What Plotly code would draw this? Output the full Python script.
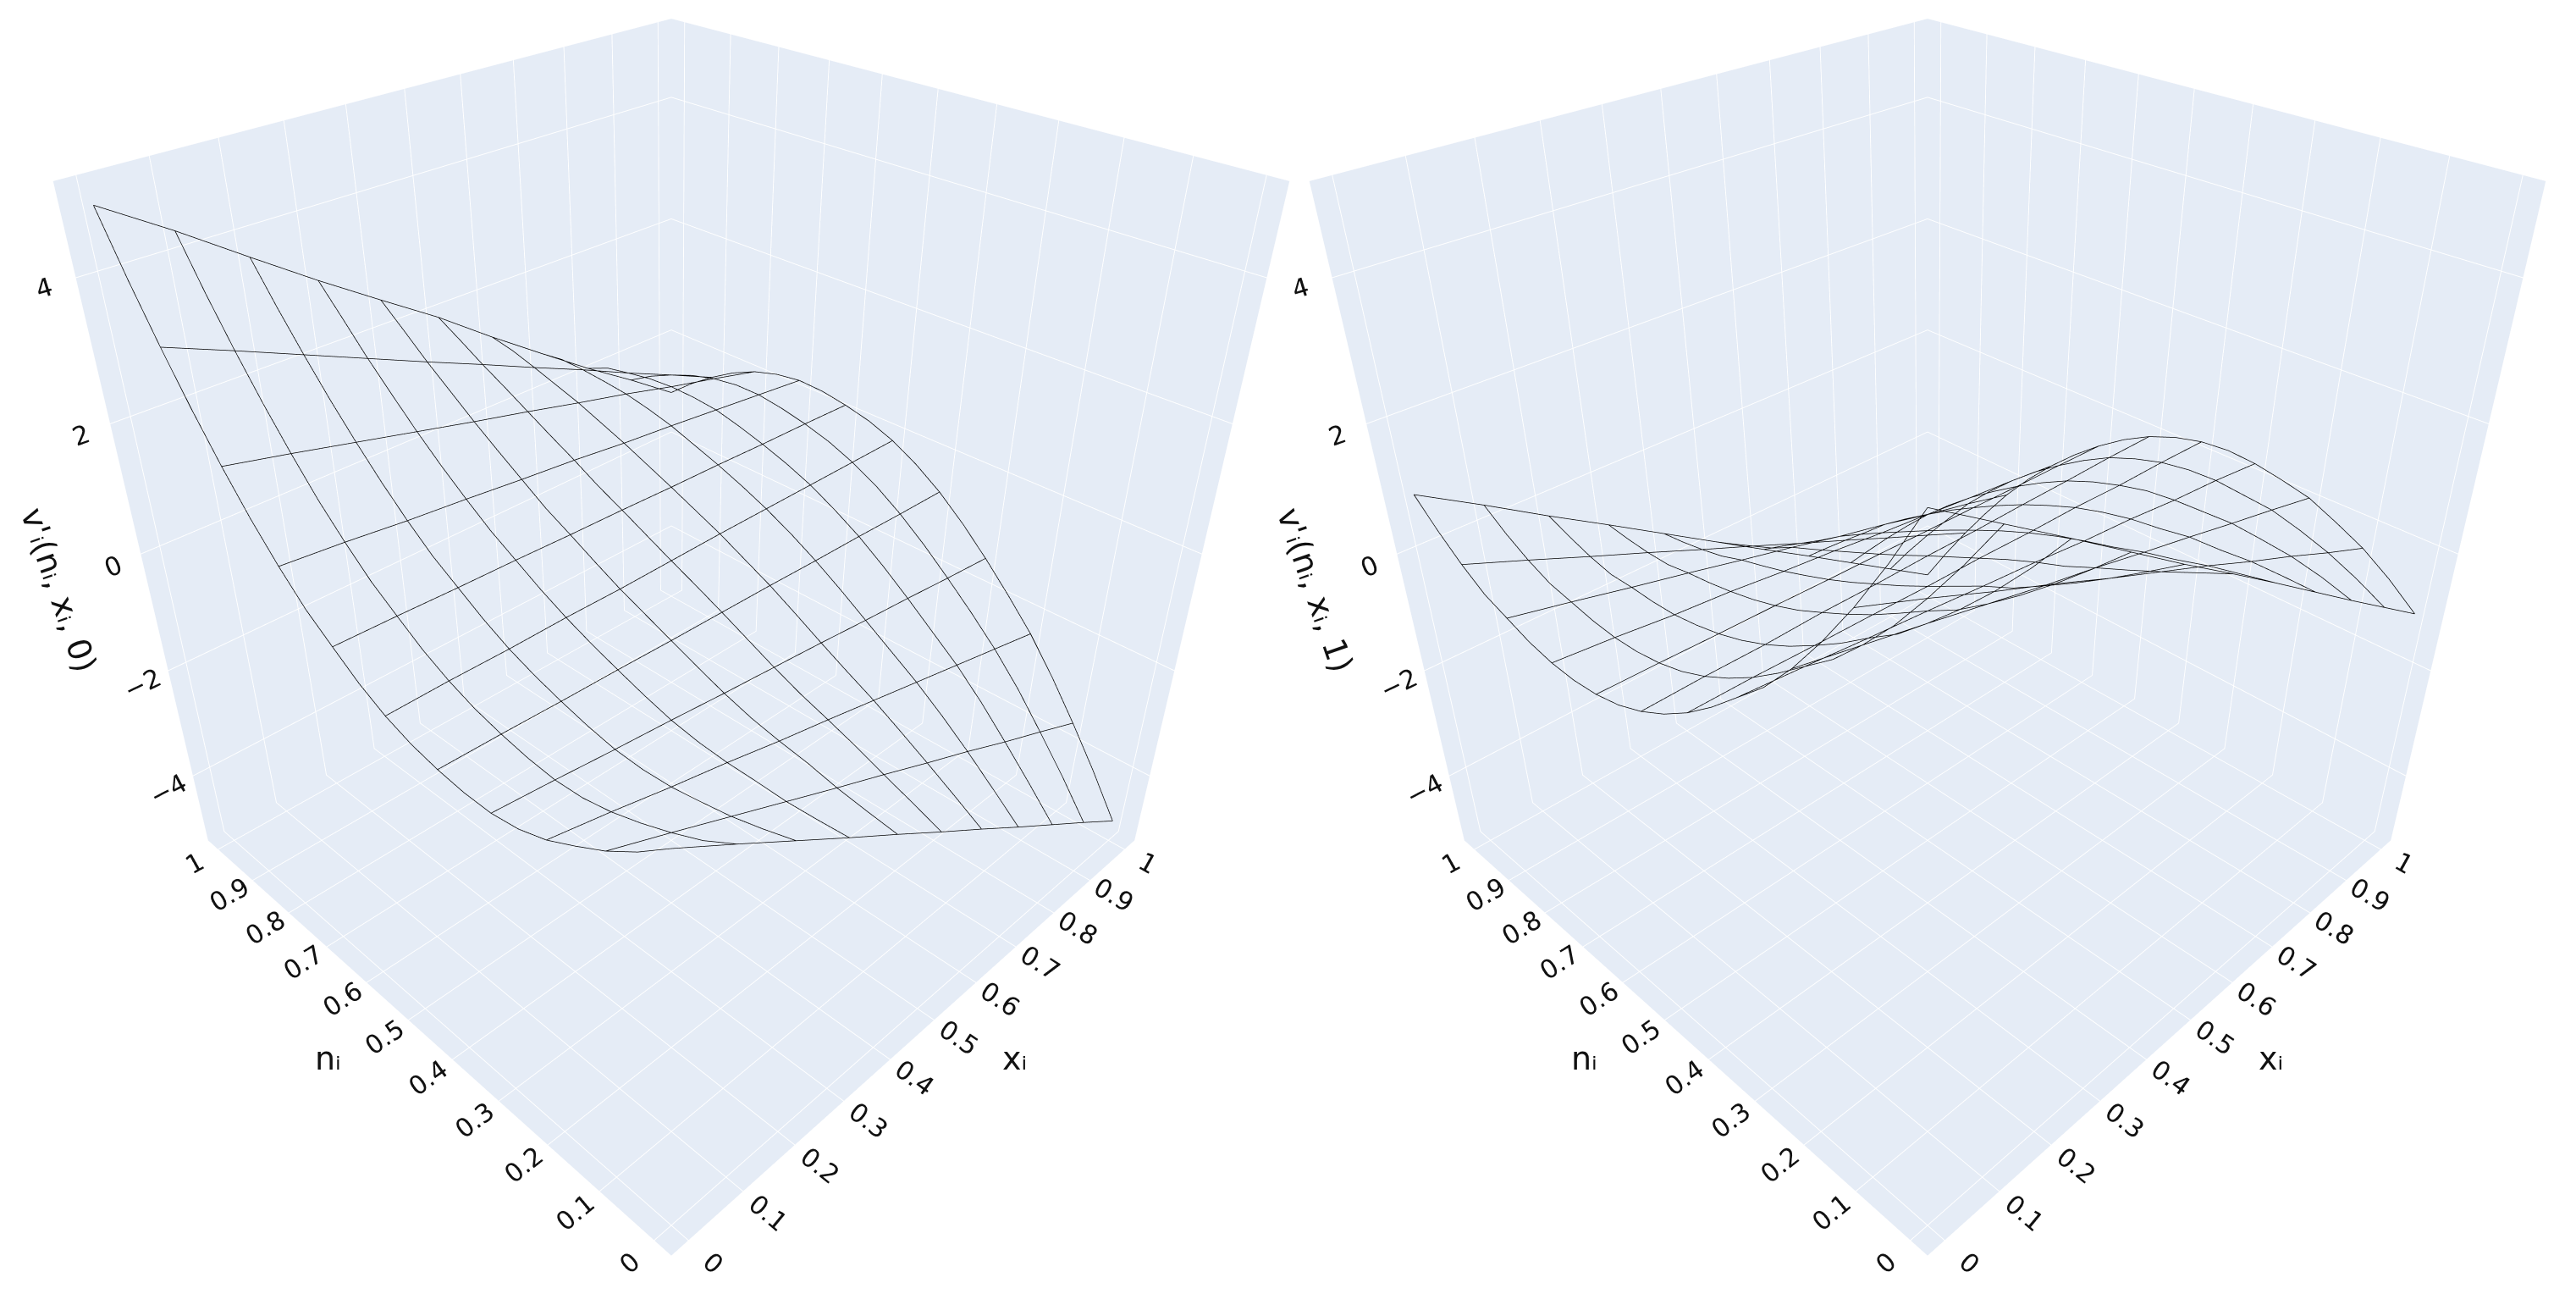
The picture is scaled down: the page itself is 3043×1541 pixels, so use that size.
import plotly.graph_objects as go

n_values = [0.0, 0.05, 0.1, 0.15, 0.2, 0.25, 0.3, 0.35, 0.4, 0.45, 0.5,
            0.55, 0.6, 0.65, 0.7, 0.75, 0.8, 0.85, 0.9, 0.95, 1.0]
x_values = [0.0, 0.1, 0.2, 0.3, 0.4, 0.5, 0.6, 0.7, 0.8, 0.9, 1.0]

# rows: n_i, columns: x_i
v_t0 = [
    [0.93, 0.35, -0.24, -0.83, -1.41, -2.00, -2.58, -3.17, -3.75, -4.33, -4.92],
    [0.56, 0.08, -0.38, -0.86, -1.34, -1.81, -2.29, -2.77, -3.25, -3.71, -4.19],
    [0.25, -0.12, -0.50, -0.88, -1.26, -1.63, -2.01, -2.38, -2.77, -3.14, -3.52],
    [0.00, -0.29, -0.58, -0.86, -1.15, -1.44, -1.74, -2.02, -2.31, -2.59, -2.89],
    [-0.23, -0.43, -0.65, -0.85, -1.07, -1.27, -1.48, -1.69, -1.90, -2.11, -2.32],
    [-0.38, -0.52, -0.67, -0.81, -0.97, -1.11, -1.25, -1.40, -1.55, -1.69, -1.84],
    [-0.45, -0.54, -0.64, -0.73, -0.83, -0.92, -1.01, -1.11, -1.20, -1.30, -1.39],
    [-0.44, -0.49, -0.55, -0.60, -0.66, -0.71, -0.76, -0.82, -0.87, -0.93, -0.98],
    [-0.38, -0.40, -0.43, -0.45, -0.48, -0.50, -0.52, -0.55, -0.57, -0.60, -0.62],
    [-0.28, -0.28, -0.29, -0.29, -0.30, -0.30, -0.31, -0.31, -0.32, -0.32, -0.33],
    [-0.12, -0.11, -0.12, -0.11, -0.12, -0.11, -0.10, -0.10, -0.10, -0.10, -0.10],
    [0.11, 0.11, 0.10, 0.10, 0.09, 0.09, 0.08, 0.08, 0.07, 0.07, 0.06],
    [0.41, 0.39, 0.36, 0.34, 0.31, 0.29, 0.26, 0.24, 0.21, 0.19, 0.16],
    [0.72, 0.68, 0.62, 0.58, 0.52, 0.48, 0.43, 0.38, 0.33, 0.28, 0.23],
    [1.13, 1.05, 0.95, 0.87, 0.78, 0.70, 0.60, 0.52, 0.43, 0.34, 0.25],
    [1.60, 1.46, 1.32, 1.18, 1.04, 0.90, 0.75, 0.62, 0.47, 0.34, 0.19],
    [2.14, 1.94, 1.73, 1.52, 1.31, 1.11, 0.90, 0.70, 0.48, 0.28, 0.07],
    [2.74, 2.46, 2.17, 1.89, 1.60, 1.32, 1.02, 0.74, 0.45, 0.17, -0.12],
    [3.40, 3.03, 2.65, 2.27, 1.89, 1.52, 1.14, 0.77, 0.38, 0.01, -0.37],
    [4.12, 3.65, 3.16, 2.69, 2.21, 1.74, 1.25, 0.78, 0.30, -0.18, -0.66],
    [4.91, 4.33, 3.71, 3.10, 2.52, 1.95, 1.32, 0.72, 0.13, -0.42, -1.00],
]
v_t1 = [
    [4.83, 4.25, 3.67, 3.08, 2.49, 1.92, 1.34, 0.75, 0.16, -0.42, -1.00],
    [4.05, 3.59, 3.11, 2.65, 2.17, 1.71, 1.24, 0.76, 0.30, -0.18, -0.64],
    [3.34, 2.98, 2.60, 2.24, 1.86, 1.50, 1.14, 0.76, 0.40, 0.02, -0.34],
    [2.70, 2.41, 2.14, 1.86, 1.57, 1.30, 1.01, 0.72, 0.45, 0.17, -0.12],
    [2.12, 1.92, 1.72, 1.51, 1.30, 1.11, 0.90, 0.70, 0.49, 0.29, 0.08],
    [1.62, 1.48, 1.33, 1.19, 1.04, 0.91, 0.76, 0.62, 0.47, 0.33, 0.18],
    [1.22, 1.13, 1.03, 0.94, 0.84, 0.75, 0.64, 0.56, 0.45, 0.37, 0.26],
    [0.82, 0.78, 0.71, 0.67, 0.61, 0.57, 0.50, 0.46, 0.40, 0.35, 0.29],
    [0.47, 0.46, 0.43, 0.41, 0.38, 0.37, 0.34, 0.33, 0.29, 0.28, 0.25],
    [0.18, 0.19, 0.17, 0.18, 0.16, 0.17, 0.16, 0.16, 0.15, 0.15, 0.14],
    [-0.05, -0.04, -0.05, -0.03, -0.04, -0.03, -0.04, -0.03, -0.03, -0.02, -0.03],
    [-0.22, -0.22, -0.23, -0.23, -0.24, -0.24, -0.25, -0.25, -0.26, -0.26, -0.27],
    [-0.32, -0.34, -0.37, -0.39, -0.42, -0.44, -0.47, -0.49, -0.52, -0.54, -0.57],
    [-0.36, -0.41, -0.47, -0.52, -0.58, -0.63, -0.70, -0.74, -0.81, -0.85, -0.92],
    [-0.34, -0.43, -0.54, -0.62, -0.73, -0.82, -0.93, -1.02, -1.12, -1.21, -1.32],
    [-0.26, -0.40, -0.56, -0.70, -0.86, -1.01, -1.17, -1.31, -1.47, -1.61, -1.77],
    [-0.12, -0.33, -0.55, -0.76, -0.98, -1.19, -1.42, -1.62, -1.85, -2.05, -2.28],
    [0.02, -0.26, -0.56, -0.84, -1.13, -1.42, -1.71, -1.99, -2.28, -2.57, -2.86],
    [0.27, -0.10, -0.48, -0.85, -1.23, -1.60, -1.98, -2.35, -2.73, -3.10, -3.48],
    [0.58, 0.11, -0.36, -0.83, -1.31, -1.78, -2.25, -2.72, -3.20, -3.66, -4.14],
    [0.94, 0.37, -0.22, -0.79, -1.37, -1.95, -2.53, -3.10, -3.68, -4.26, -4.84],
]

LINE = "#000000"
TICK_FONT = dict(family="DejaVu Sans", size=19, color="#111111")
TITLE_FONT = dict(family="DejaVu Sans", size=38, color="#111111")


def wire(z, scene):
    xs, ys, zs = [], [], []
    for i, n in enumerate(n_values):
        if i % 2:
            continue
        for j, x in enumerate(x_values):
            xs.append(x); ys.append(n); zs.append(z[i][j])
        xs.append(None); ys.append(None); zs.append(None)
    for j, x in enumerate(x_values):
        for i, n in enumerate(n_values):
            xs.append(x); ys.append(n); zs.append(z[i][j])
        xs.append(None); ys.append(None); zs.append(None)
    return go.Scatter3d(x=xs, y=ys, z=zs, mode="lines", scene=scene,
                        line=dict(color=LINE, width=1.5), showlegend=False,
                        connectgaps=False, hoverinfo="skip")


def scene(domain, ztitle):
    ticks = dict(ticks="outside", ticklen=12, tickcolor="rgba(0,0,0,0)", tickwidth=1)
    ax = dict(range=[-0.03, 1.03], dtick=0.1, tick0=0, tickfont=TICK_FONT,
              title=dict(text=""), **ticks)
    label = dict(showarrow=False, font=TITLE_FONT)
    return dict(
        domain=dict(x=domain, y=[0, 1]),
        xaxis=dict(**ax),
        yaxis=dict(**ax),
        zaxis=dict(title=dict(text=""), range=[-5.33, 5.2],
                   dtick=2, tick0=0, tickfont=TICK_FONT, **ticks),
        aspectmode="manual",
        aspectratio=dict(x=1, y=1, z=1.02),
        camera=dict(eye=dict(x=-1.2560, y=-1.2560, z=1.1330),
                    center=dict(x=-0.0585, y=-0.0585, z=-0.1070),
                    up=dict(x=0, y=0, z=1)),
        annotations=[
            dict(x=0.5, y=-0.03, z=-5.33, text="xᵢ", xshift=95, yshift=-46, **label),
            dict(x=-0.03, y=0.5, z=-5.33, text="nᵢ", xshift=-95, yshift=-46, **label),
            dict(x=-0.03, y=1.03, z=0, text=ztitle, textangle=71,
                 xshift=-97, yshift=-43, **label),
        ],
    )


fig = go.Figure([wire(v_t0, "scene"), wire(v_t1, "scene2")])
fig.update_layout(
    width=3043, height=1541, margin=dict(l=0, r=0, t=0, b=0),
    showlegend=False,
    scene=scene([0, 0.5159], "v'ᵢ(nᵢ, xᵢ, 0)"),
    scene2=scene([0.4913, 1], "v'ᵢ(nᵢ, xᵢ, 1)"),
)
fig.write_html("out.html")
